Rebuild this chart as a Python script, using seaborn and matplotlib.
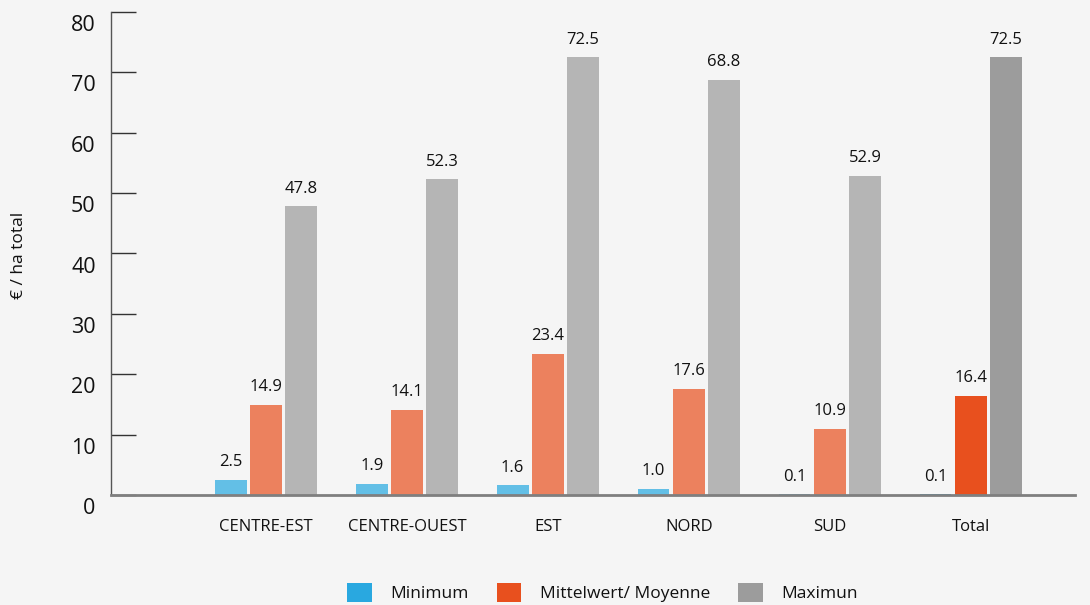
import matplotlib
matplotlib.use("Agg")
import matplotlib.pyplot as plt
import matplotlib.transforms as mtrans
from matplotlib.patches import Patch
import seaborn as sns
import pandas as pd

categories = ["CENTRE-EST", "CENTRE-OUEST", "EST", "NORD", "SUD", "Total"]
series_names = ["Minimum", "Mittelwert/ Moyenne", "Maximun"]
minimum = [2.5, 1.9, 1.6, 1.0, 0.1, 0.1]
moyenne = [14.9, 14.1, 23.4, 17.6, 10.9, 16.4]
maximum = [47.8, 52.3, 72.5, 68.8, 52.9, 72.5]
y_ticks = [0, 10, 20, 30, 40, 50, 60, 70, 80]
y_label = "€ / ha total"

light_colors = ["#63bfe6", "#ec815e", "#b5b5b5"]
dark_colors = ["#29a8e0", "#e8501e", "#9c9c9c"]
bg = "#f5f5f5"
txt = "#111111"

rows = []
for name, vals in zip(series_names, [minimum, moyenne, maximum]):
    for c, v in zip(categories, vals):
        rows.append({"region": c, "series": name, "value": v})
df = pd.DataFrame(rows)

sns.set_style("white")
plt.rcParams["font.family"] = ["Open Sans", "DejaVu Sans"]

fig = plt.figure(figsize=(10.9, 6.05), dpi=100, facecolor=bg)
ax = fig.add_axes([111 / 1090, 1 - 495 / 605, (1075 - 111) / 1090, (495 - 12) / 605])
ax.set_facecolor(bg)

sns.barplot(data=df, x="region", y="value", hue="series", order=categories,
            hue_order=series_names, palette=light_colors, width=0.75, gap=0.1,
            ax=ax, legend=False, saturation=1, linewidth=0)

for cont, dc in zip(ax.containers, dark_colors):
    cont.patches[-1].set_facecolor(dc)
    ax.bar_label(cont, fmt="%.1f", padding=7, fontsize=12, color=txt)

ax.set_xlim(-1.1, 5.74)
ax.set_ylim(0, 80)
ax.set_yticks(y_ticks)
ax.set_yticklabels([str(t) for t in y_ticks], fontsize=15.5, color=txt)
ax.tick_params(axis="y", direction="in", length=18, width=1, color="#333333", pad=11, left=True)
ax.tick_params(axis="x", length=0, pad=17, labelsize=12, labelcolor=txt)
for lab in ax.get_yticklabels():
    lab.set_transform(lab.get_transform() + mtrans.ScaledTranslation(0, -8 / 72, fig.dpi_scale_trans))

for s in ["top", "right"]:
    ax.spines[s].set_visible(False)
ax.spines["left"].set_color("#555555")
ax.spines["left"].set_linewidth(1)
ax.spines["bottom"].set_color("#7f7f7f")
ax.spines["bottom"].set_linewidth(2)
ax.set_xlabel("")
ax.set_ylabel("")
fig.text(19 / 1090, 1 - 255 / 605, y_label, rotation=90, va="center", ha="center",
         fontsize=12.5, color=txt)

handles = [Patch(facecolor=c, edgecolor="none") for c in dark_colors]
fig.legend(handles, series_names, loc="lower center", bbox_to_anchor=(0.553, -0.021),
           ncol=3, frameon=False, fontsize=12.5, handlelength=1.4, handleheight=1.3,
           handletextpad=1.1, columnspacing=1.6, labelcolor=txt)

fig.savefig("out.png", dpi=100, facecolor=bg)
